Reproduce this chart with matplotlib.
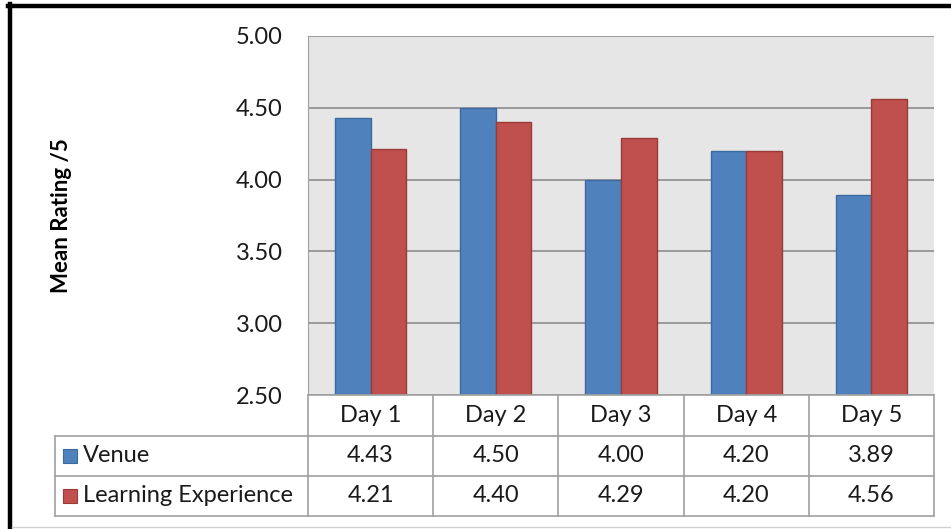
import matplotlib
matplotlib.use("Agg")
import matplotlib.pyplot as plt
from matplotlib.lines import Line2D
from matplotlib.patches import Rectangle
import numpy as np

categories = ["Day 1", "Day 2", "Day 3", "Day 4", "Day 5"]
series_names = ["Venue", "Learning Experience"]
venue = [4.43, 4.50, 4.00, 4.20, 3.89]
learning = [4.21, 4.40, 4.29, 4.20, 4.56]
yticks = [2.5, 3.0, 3.5, 4.0, 4.5, 5.0]

colors = ["#4f81bd", "#c0504d"]
edges = ["#3b6aa0", "#9a3b38"]
txt_c = "#1a1a1a"
fs = 17

W, H = 951, 529
fig = plt.figure(figsize=(W / 100, H / 100), dpi=100)
plt.rcParams['font.family'] = ['Lato', 'DejaVu Sans']

def fx(x):
    return x / W

def fy(y):
    return 1 - y / H

ax_l, ax_r, ax_t, ax_b = 308, 934, 36, 395
ax = fig.add_axes([fx(ax_l), fy(ax_b), fx(ax_r - ax_l), fy(ax_t) - fy(ax_b)])
ax.set_facecolor("#e6e6e6")
ax.set_xlim(-0.5, len(categories) - 0.5)
ax.set_ylim(2.5, 5.0)
ax.set_yticks(yticks)
ax.set_yticklabels([f"{v:.2f}" for v in yticks], fontsize=fs, color=txt_c)
ax.tick_params(axis="y", length=0, pad=18)
ax.set_xticks([])
for s in ["top", "right", "bottom"]:
    ax.spines[s].set_visible(False)
ax.spines["left"].set_color("#a0a0a0")
ax.yaxis.grid(True, color="#8c8c8c", linewidth=1.2)
ax.set_axisbelow(True)

x = np.arange(len(categories))
bw = 0.284
ax.bar(x - bw / 2, venue, bw, bottom=0, color=colors[0], edgecolor=edges[0], linewidth=1, zorder=3)
ax.bar(x + bw / 2, learning, bw, bottom=0, color=colors[1], edgecolor=edges[1], linewidth=1, zorder=3)

ax.set_ylabel("Mean Rating /5", fontsize=16, fontweight="bold", labelpad=0, color="black")
ax.yaxis.set_label_coords(fx(72 - ax_l) / fx(ax_r - ax_l), 0.5)

# data table
line_c = "#a0a0a0"
col_w = (ax_r - ax_l) / len(categories)
row_y = [395, 436, 476, 516]
tl = 55
def hline(y, x0, x1):
    fig.add_artist(Line2D([fx(x0), fx(x1)], [fy(y), fy(y)], color=line_c, lw=1.2))
def vline(xp, y0, y1):
    fig.add_artist(Line2D([fx(xp), fx(xp)], [fy(y0), fy(y1)], color=line_c, lw=1.2))

hline(395, ax_l, ax_r)
hline(436, tl, ax_r)
hline(476, tl, ax_r)
hline(516, tl, ax_r)
vline(tl, 436, 516)
for i in range(len(categories) + 1):
    vline(ax_l + i * col_w, 395, 516)

for i, c in enumerate(categories):
    cx = ax_l + (i + 0.5) * col_w
    fig.text(fx(cx), fy((row_y[0] + row_y[1]) / 2), c, ha="center", va="center", fontsize=fs, color=txt_c)
    fig.text(fx(cx), fy((row_y[1] + row_y[2]) / 2), f"{venue[i]:.2f}", ha="center", va="center", fontsize=fs, color=txt_c)
    fig.text(fx(cx), fy((row_y[2] + row_y[3]) / 2), f"{learning[i]:.2f}", ha="center", va="center", fontsize=fs, color=txt_c)

for r, name in enumerate(series_names):
    yc = (row_y[r + 1] + row_y[r + 2]) / 2
    fig.add_artist(Rectangle((fx(63), fy(yc + 7)), fx(14), fy(yc - 7) - fy(yc + 7),
                             facecolor=colors[r], edgecolor=edges[r], lw=0.8))
    fig.text(fx(83), fy(yc), name, ha="left", va="center", fontsize=fs, color=txt_c)

# outer frame
fig.add_artist(Line2D([fx(10), fx(10)], [fy(4), fy(529)], color="black", lw=3.2))
fig.add_artist(Line2D([fx(8), fx(951)], [fy(6), fy(6)], color="black", lw=3.2))
fig.add_artist(Line2D([fx(12), fx(951)], [fy(527), fy(527)], color="#d0d0d0", lw=1))

fig.savefig("out.png", dpi=100)
